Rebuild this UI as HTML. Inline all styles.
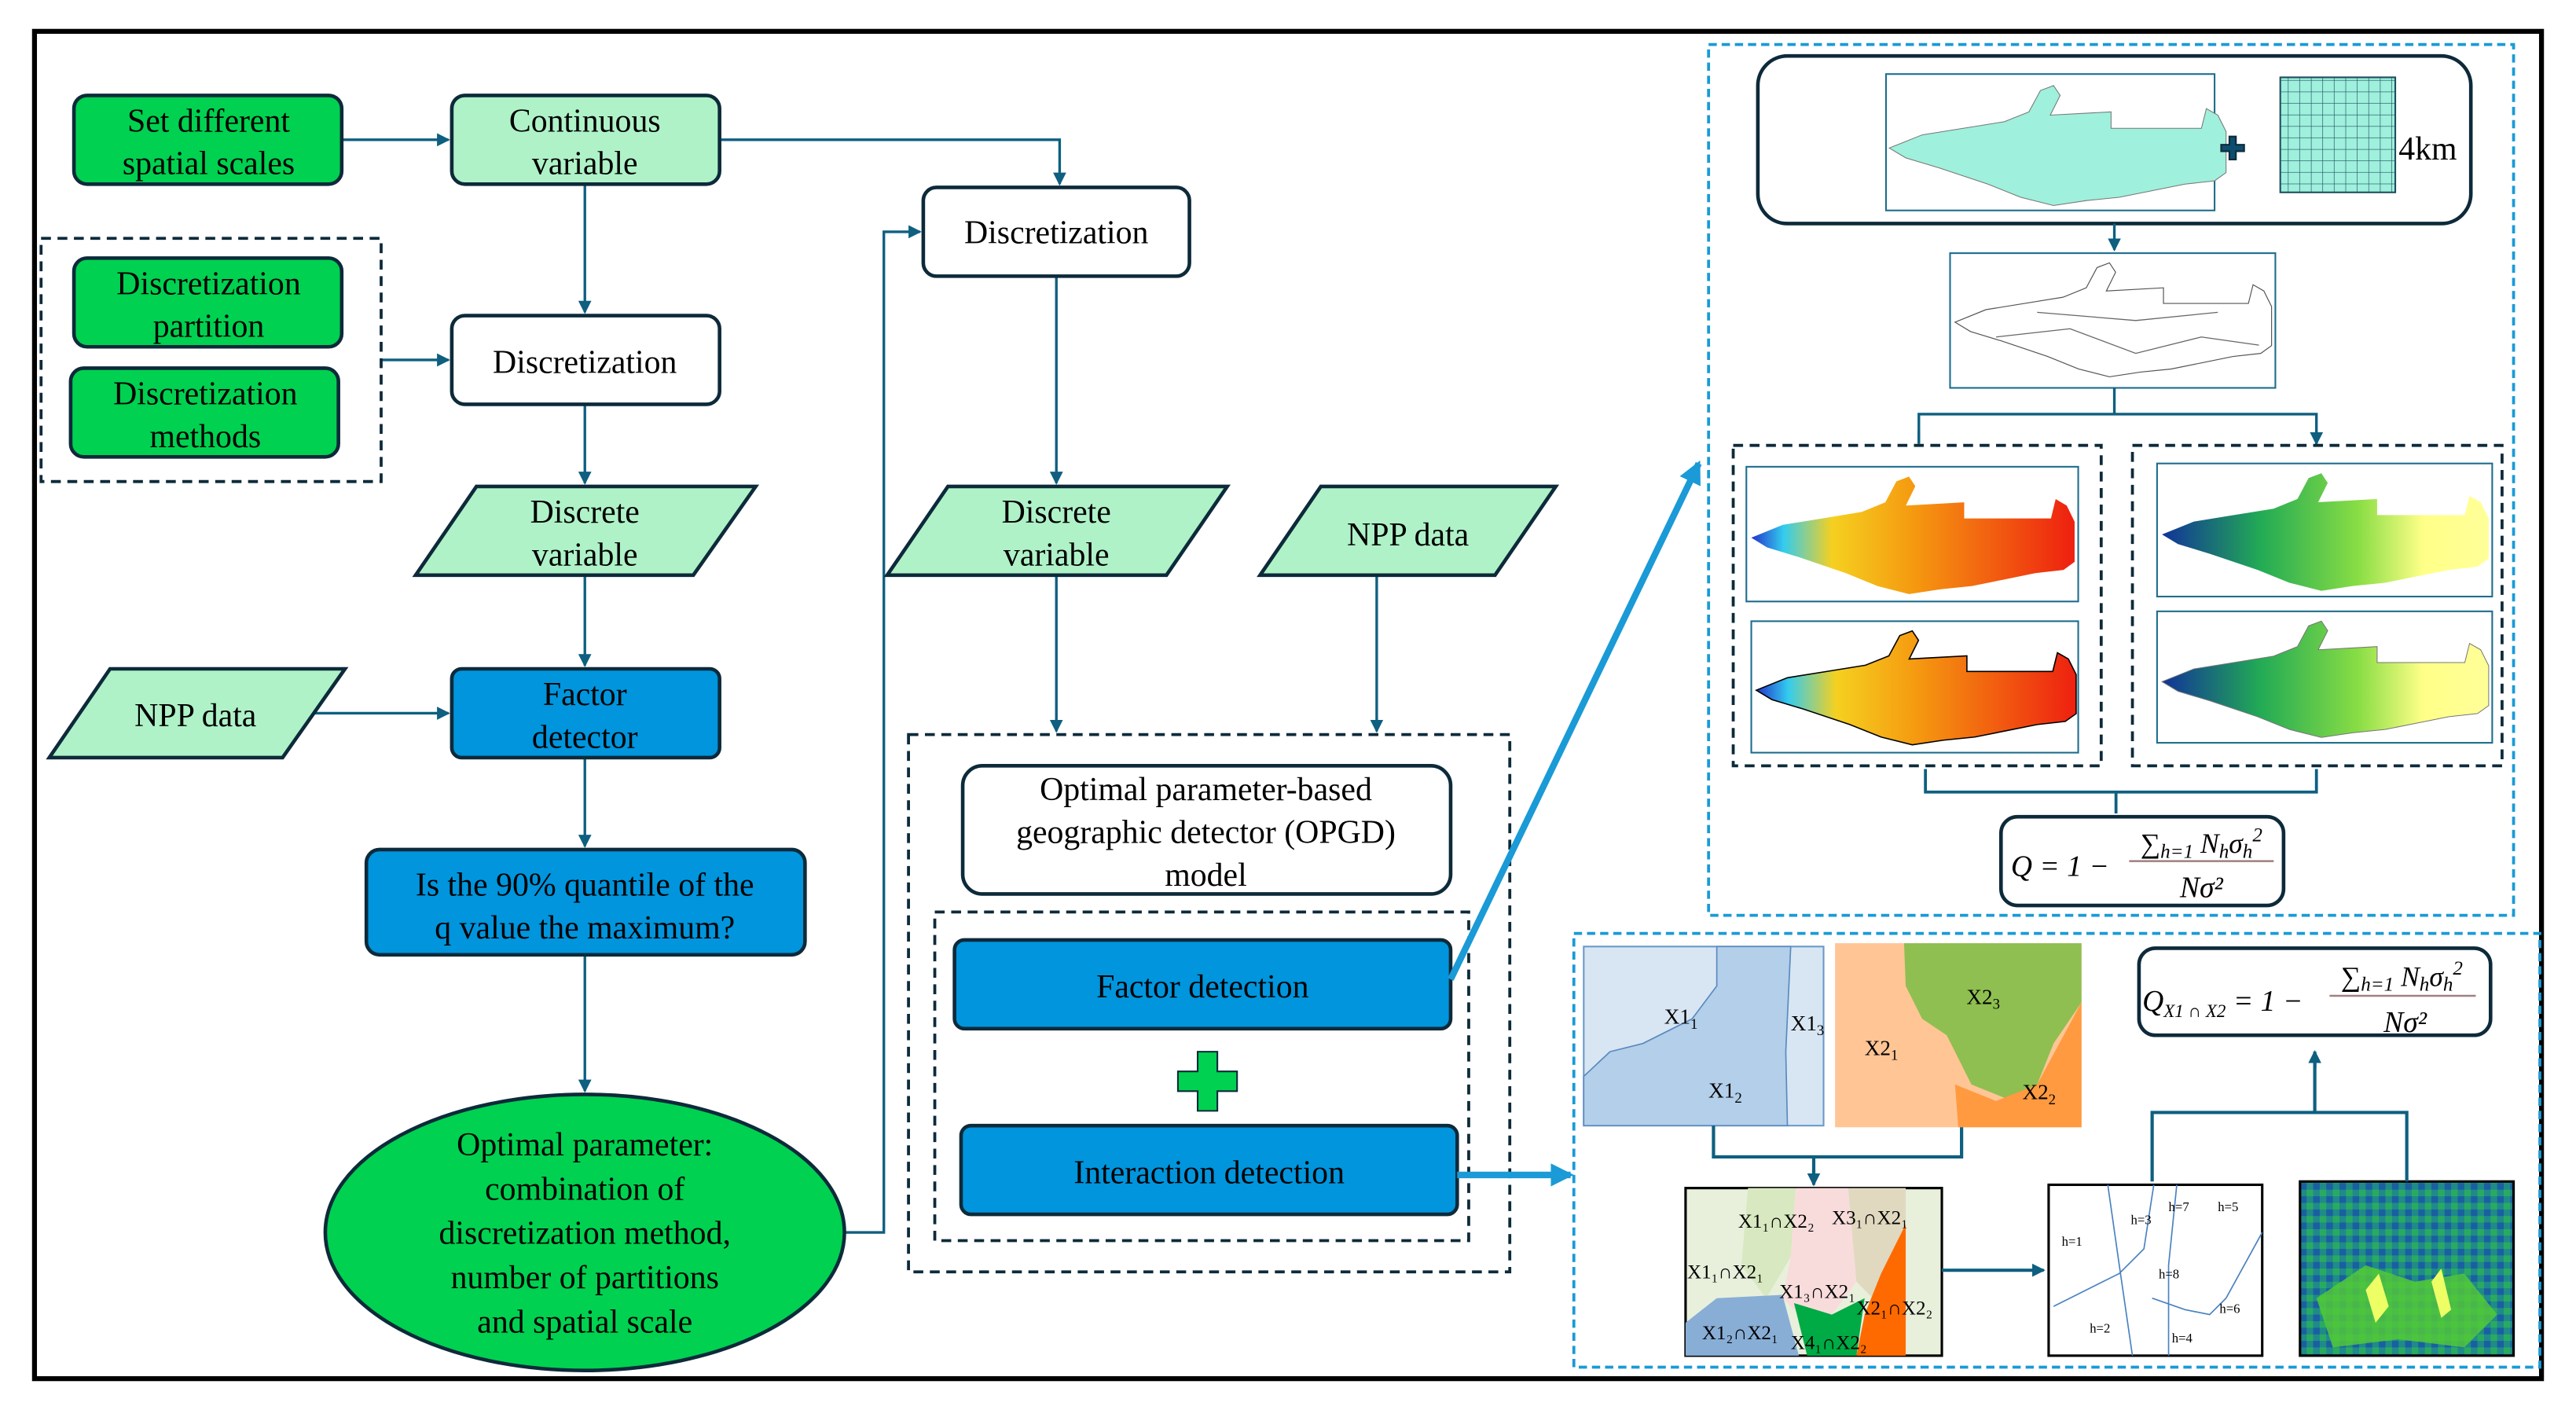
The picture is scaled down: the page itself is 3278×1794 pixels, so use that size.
<!DOCTYPE html>
<html><head><meta charset="utf-8"><style>html,body{margin:0;padding:0;background:#fff}svg{display:block}svg text{font-family:"Liberation Serif","DejaVu Serif",serif}</style></head><body>
<svg width="3278" height="1794" viewBox="0 0 1568 858" xmlns="http://www.w3.org/2000/svg" style='font-family:"Liberation Serif",serif'>
<defs>
<marker id="a" markerWidth="8" markerHeight="8" refX="7" refY="4" orient="auto" markerUnits="userSpaceOnUse"><path d="M0,0L8,4L0,8z" fill="#0e5f80"/></marker>
<marker id="b" markerWidth="14" markerHeight="14" refX="12" refY="7" orient="auto" markerUnits="userSpaceOnUse"><path d="M0,0L14,7L0,14z" fill="#1a9ad6"/></marker>
<linearGradient id="tg" x1="0" x2="1"><stop offset="0" stop-color="#2233cc"/><stop offset="0.1" stop-color="#33ccee"/><stop offset="0.25" stop-color="#f5d020"/><stop offset="0.5" stop-color="#f59a10"/><stop offset="1" stop-color="#ee2010"/></linearGradient>
<linearGradient id="vg" x1="0" x2="1"><stop offset="0" stop-color="#113399"/><stop offset="0.3" stop-color="#22aa55"/><stop offset="0.6" stop-color="#88dd44"/><stop offset="0.8" stop-color="#ffff88"/><stop offset="1" stop-color="#ffff99"/></linearGradient>
<pattern id="grid" width="7" height="7" patternUnits="userSpaceOnUse"><rect width="7" height="7" fill="#9ff0dc"/><path d="M7,0V7H0" fill="none" stroke="#1d4d5e" stroke-width="0.6"/></pattern>
<pattern id="ras" width="8" height="8" patternUnits="userSpaceOnUse"><rect width="8" height="8" fill="#1f8a8a"/><rect width="4" height="4" fill="#1a5fa0"/><rect x="4" y="4" width="4" height="4" fill="#2aaa60"/></pattern>
<path id="shape" d="M0,40 L20,32 L45,28 L70,24 L85,18 L92,5 L100,2 L104,8 L98,20 L135,18 L135,28 L190,28 L193,16 L200,20 L205,30 L205,55 L198,60 L180,62 L160,66 L140,70 L120,72 L100,75 L80,70 L60,62 L30,52 L10,46 Z"/>
</defs>
<rect x="21" y="19" width="1526" height="820" fill="none" stroke="#000" stroke-width="3"/>
<g fill="none" stroke="#0e5f80" stroke-width="1.6">
<path d="M208,85H273" marker-end="url(#a)"/>
<path d="M438,85H645V112" marker-end="url(#a)"/>
<path d="M356,112V190" marker-end="url(#a)"/>
<path d="M232,219H273" marker-end="url(#a)"/>
<path d="M356,246V294" marker-end="url(#a)"/>
<path d="M356,350V405" marker-end="url(#a)"/>
<path d="M190,434H273" marker-end="url(#a)"/>
<path d="M356,461V515" marker-end="url(#a)"/>
<path d="M356,581V664" marker-end="url(#a)"/>
<path d="M514,750H538V141H560" marker-end="url(#a)"/>
<path d="M643,168V294" marker-end="url(#a)"/>
<path d="M643,350V445" marker-end="url(#a)"/>
<path d="M838,350V445" marker-end="url(#a)"/>
</g>
<g stroke="#0d2a3a" stroke-width="2.2">
<rect x="45" y="58" width="163" height="54" rx="8" fill="#00d150"/>
<rect x="275" y="58" width="163" height="54" rx="8" fill="#aff2c8"/>
<rect x="45" y="157" width="163" height="54" rx="8" fill="#00d150"/>
<rect x="43" y="224" width="163" height="54" rx="8" fill="#00d150"/>
<rect x="275" y="192" width="163" height="54" rx="8" fill="#fff"/>
<path d="M253,350L290,296H460L422,350Z" fill="#aff2c8"/>
<path d="M30,461L67,407H210L172,461Z" fill="#aff2c8"/>
<rect x="275" y="407" width="163" height="54" rx="6" fill="#0095dd"/>
<rect x="223" y="517" width="267" height="64" rx="8" fill="#0095dd"/>
<ellipse cx="356" cy="750" rx="158" ry="84" fill="#00d150"/>
<rect x="562" y="114" width="162" height="54" rx="8" fill="#fff"/>
<path d="M540,350L577,296H747L710,350Z" fill="#aff2c8"/>
<path d="M767,350L804,296H947L910,350Z" fill="#aff2c8"/>
<rect x="586" y="466" width="297" height="78" rx="12" fill="#fff"/>
<rect x="581" y="572" width="302" height="54" rx="6" fill="#0095dd"/>
<rect x="585" y="685" width="302" height="54" rx="6" fill="#0095dd"/>
</g>
<g fill="none" stroke="#0d2a3a" stroke-width="1.8" stroke-dasharray="6,4">
<rect x="25" y="145" width="207" height="148"/>
<rect x="553" y="447" width="366" height="327"/>
<rect x="569" y="555" width="325" height="200"/>
</g>
<path d="M729,640h12v12h12v12h-12v12h-12v-12h-12v-12h12z" fill="#00d150" stroke="#0d2a3a" stroke-width="1"/>
<g font-size="20" text-anchor="middle" fill="#000">
<text x="127" y="80">Set different</text><text x="127" y="106">spatial scales</text>
<text x="356" y="80">Continuous</text><text x="356" y="106">variable</text>
<text x="127" y="179">Discretization</text><text x="127" y="205">partition</text>
<text x="125" y="246">Discretization</text><text x="125" y="272">methods</text>
<text x="356" y="227">Discretization</text>
<text x="356" y="318">Discrete</text><text x="356" y="344">variable</text>
<text x="119" y="442">NPP data</text>
<text x="356" y="429">Factor</text><text x="356" y="455">detector</text>
<text x="356" y="545">Is the 90% quantile of the</text><text x="356" y="571">q value the maximum?</text>
<text x="356" y="703">Optimal parameter:</text><text x="356" y="730">combination of</text><text x="356" y="757">discretization method,</text><text x="356" y="784">number of partitions</text><text x="356" y="811">and spatial scale</text>
<text x="643" y="148">Discretization</text>
<text x="643" y="318">Discrete</text><text x="643" y="344">variable</text>
<text x="857" y="332">NPP data</text>
<text x="734" y="487">Optimal parameter-based</text><text x="734" y="513">geographic detector (OPGD)</text><text x="734" y="539">model</text>
<text x="732" y="607">Factor detection</text>
<text x="736" y="720">Interaction detection</text>
</g>
<path d="M883,596L1034,282" stroke="#1a9ad6" stroke-width="4" marker-end="url(#b)"/>
<path d="M887,715H956" stroke="#1a9ad6" stroke-width="4" marker-end="url(#b)"/>
<rect x="1040" y="27" width="490" height="530" fill="none" stroke="#1a9ad6" stroke-width="1.8" stroke-dasharray="5,3"/>
<rect x="1070" y="34" width="434" height="102" rx="18" fill="#fff" stroke="#0d2a3a" stroke-width="2.2"/>
<rect x="1148" y="45" width="200" height="83" fill="#fff" stroke="#1d6d8e"/>
<use href="#shape" transform="translate(1150,50)" fill="#9ff0dc" stroke="#777" stroke-width="0.5"/>
<path d="M1352,88h5v-5h4v5h5v4h-5v5h-4v-5h-5z" fill="#0d4d6e" stroke="#0d2a3a"/>
<rect x="1388" y="47" width="70" height="70" fill="url(#grid)" stroke="#1d4d5e"/>
<text x="1460" y="97" font-size="20">4km</text>
<path d="M1287,136V152" stroke="#0e5f80" stroke-width="1.6" marker-end="url(#a)"/>
<rect x="1187" y="154" width="198" height="82" fill="#fff" stroke="#1d6d8e"/>
<use href="#shape" transform="translate(1190,158) scale(0.94,0.95)" fill="#fff" stroke="#555" stroke-width="0.6"/>
<path d="M1215,205L1260,200L1300,215L1340,205L1375,210M1240,190L1300,195L1350,190" fill="none" stroke="#666" stroke-width="0.6"/>
<path d="M1287,236V252H1168V270M1287,252H1410V270" fill="none" stroke="#0e5f80" stroke-width="1.6"/>
<path d="M1168,262V270M1410,262V270" stroke="#0e5f80" stroke-width="1.6" marker-end="url(#a)"/>
<g fill="none" stroke="#0d2a3a" stroke-width="1.8" stroke-dasharray="6,4">
<rect x="1055" y="271" width="224" height="195"/><rect x="1298" y="271" width="225" height="195"/>
</g>
<g fill="#fff" stroke="#1d6d8e">
<rect x="1063" y="284" width="202" height="82"/><rect x="1066" y="378" width="199" height="80"/>
<rect x="1313" y="282" width="204" height="81"/><rect x="1313" y="372" width="204" height="80"/>
</g>
<use href="#shape" transform="translate(1066,288) scale(0.96,0.98)" fill="url(#tg)"/>
<use href="#shape" transform="translate(1069,382) scale(0.95,0.95)" fill="url(#tg)" stroke="#000" stroke-width="0.8"/>
<use href="#shape" transform="translate(1316,286) scale(0.97,0.98)" fill="url(#vg)"/>
<use href="#shape" transform="translate(1316,376) scale(0.97,0.97)" fill="url(#vg)" stroke="#777" stroke-width="0.5"/>
<path d="M1172,468V482H1410V468M1288,482V495" fill="none" stroke="#0e5f80" stroke-width="1.8"/>
<rect x="1218" y="497" width="172" height="54" rx="10" fill="#fff" stroke="#0d2a3a" stroke-width="2.2"/>
<text x="1224" y="533" font-size="18" font-style="italic">Q = 1 −</text>
<text x="1340" y="519" font-size="17" text-anchor="middle" font-style="italic">∑<tspan font-size="12" dy="3">h=1</tspan><tspan dy="-3"> N</tspan><tspan font-size="12" dy="3">h</tspan><tspan dy="-3">σ</tspan><tspan font-size="12" dy="3">h</tspan><tspan font-size="12" dy="-10">2</tspan></text>
<path d="M1296,524H1384" stroke="#a08080" stroke-width="1.2"/>
<text x="1340" y="546" font-size="18" text-anchor="middle" font-style="italic">Nσ²</text>
<rect x="958" y="568" width="588" height="264" fill="none" stroke="#1a9ad6" stroke-width="1.8" stroke-dasharray="5,3"/>
<rect x="964" y="576" width="146" height="109" fill="#d8e6f3" stroke="#6a9ac8"/>
<path d="M1045,576L1090,576L1087,640L1088,685L964,685L964,655L980,640L1000,635L1030,620L1045,600Z" fill="#b3cfe9" stroke="#5a8ac0" stroke-width="0.8"/>
<g font-size="13"><text x="1013" y="623">X1<tspan font-size="9" dy="3">1</tspan></text><text x="1090" y="627">X1<tspan font-size="9" dy="3">3</tspan></text><text x="1040" y="668">X1<tspan font-size="9" dy="3">2</tspan></text></g>
<rect x="1117" y="574" width="150" height="112" fill="#ffc595"/>
<path d="M1159,574H1267V610L1250,635L1240,660L1225,670L1200,660L1185,630L1170,620L1160,600Z" fill="#8fbf50"/>
<path d="M1190,660L1215,670L1240,660L1267,610V686H1192Z" fill="#ff9a40"/>
<g font-size="13"><text x="1197" y="611">X2<tspan font-size="9" dy="3">3</tspan></text><text x="1135" y="642">X2<tspan font-size="9" dy="3">1</tspan></text><text x="1231" y="669">X2<tspan font-size="9" dy="3">2</tspan></text></g>
<path d="M1043,685V704H1194V686M1104,704V720" fill="none" stroke="#0e5f80" stroke-width="2"/>
<path d="M1104,712V721" stroke="#0e5f80" stroke-width="2" marker-end="url(#a)"/>
<rect x="1026" y="723" width="156" height="102" fill="#e8f0dc" stroke="#000" stroke-width="1.5"/>
<path d="M1064,723H1093L1090,765L1075,790L1060,770Z" fill="#d8e8c0"/>
<path d="M1093,723H1125L1130,780L1115,800L1095,800L1085,790L1090,765Z" fill="#f8dcdc"/>
<path d="M1125,723H1160V755L1140,790L1130,780Z" fill="#e0d9c0"/>
<path d="M1160,745V825H1130L1135,800L1145,775Z" fill="#ff6a00"/>
<path d="M1092,793L1115,800L1135,790L1130,825H1100Z" fill="#00aa44"/>
<path d="M1026,805L1045,790L1085,788L1095,825H1026Z" fill="#88aed6"/>
<g font-size="12"><text x="1058" y="747">X1₁∩X2₂</text><text x="1115" y="745">X3₁∩X2₁</text><text x="1027" y="778">X1₁∩X2₁</text><text x="1083" y="790">X1₃∩X2₁</text><text x="1130" y="800">X2₁∩X2₂</text><text x="1036" y="815">X1₂∩X2₁</text><text x="1090" y="821">X4₁∩X2₂</text></g>
<path d="M1182,773H1244" stroke="#0e5f80" stroke-width="2" marker-end="url(#a)"/>
<rect x="1247" y="721" width="130" height="104" fill="#fff" stroke="#000" stroke-width="1.5"/>
<g fill="none" stroke="#4a82c0" stroke-width="0.8"><path d="M1283,721L1290,770L1298,825M1311,721L1305,760L1290,775L1250,795M1325,721L1320,770L1320,825M1377,750L1355,790L1345,800L1330,797L1310,790"/></g>
<g font-size="8"><text x="1255" y="758">h=1</text><text x="1297" y="745">h=3</text><text x="1320" y="737">h=7</text><text x="1350" y="737">h=5</text><text x="1314" y="778">h=8</text><text x="1351" y="799">h=6</text><text x="1272" y="811">h=2</text><text x="1322" y="817">h=4</text></g>
<rect x="1400" y="719" width="130" height="106" fill="url(#ras)" stroke="#000" stroke-width="1.5"/>
<path d="M1410,790L1440,770L1470,780L1500,775L1520,800L1500,820L1460,815L1420,820Z" fill="#55cc33" opacity="0.8"/>
<path d="M1440,785l8,-10l6,20l-8,10zM1480,780l6,-8l6,25l-6,5z" fill="#eeff66"/>
<path d="M1310,719V677H1465V719M1409,677V641" fill="none" stroke="#0e5f80" stroke-width="2"/>
<path d="M1409,650V640" stroke="#0e5f80" stroke-width="2" marker-end="url(#a)"/>
<rect x="1302" y="577" width="214" height="53" rx="10" fill="#fff" stroke="#0d2a3a" stroke-width="2.2"/>
<text x="1304" y="615" font-size="18" font-style="italic">Q<tspan font-size="11" dy="4">X1 ∩ X2</tspan><tspan dy="-4"> = 1 −</tspan></text>
<text x="1462" y="600" font-size="17" text-anchor="middle" font-style="italic">∑<tspan font-size="12" dy="3">h=1</tspan><tspan dy="-3"> N</tspan><tspan font-size="12" dy="3">h</tspan><tspan dy="-3">σ</tspan><tspan font-size="12" dy="3">h</tspan><tspan font-size="12" dy="-10">2</tspan></text>
<path d="M1418,606H1507" stroke="#a08080" stroke-width="1.2"/>
<text x="1464" y="628" font-size="18" text-anchor="middle" font-style="italic">Nσ²</text>
</svg>
</body></html>
